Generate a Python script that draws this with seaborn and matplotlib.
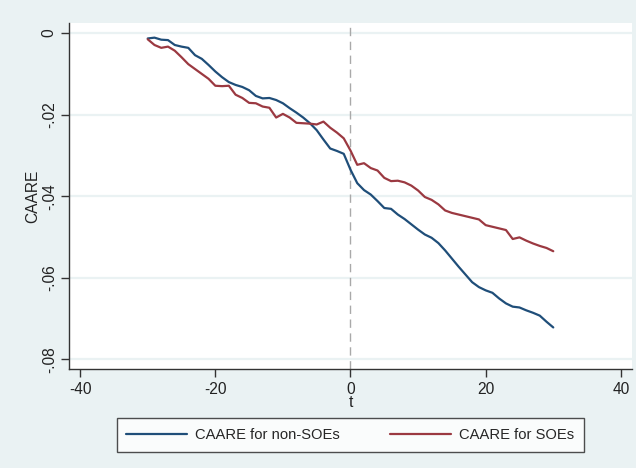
import numpy as np
import pandas as pd
import matplotlib
matplotlib.use("Agg")
import matplotlib.pyplot as plt
import seaborn as sns

# Event window
t = list(range(-30, 31))

# Cumulative average abnormal returns
caare_non_soe = [
    -0.0013, -0.0011, -0.0016, -0.0017, -0.0029, -0.0033, -0.0036, -0.0054, -0.0063, -0.0078,
    -0.0094, -0.0108, -0.0120, -0.0127, -0.0132, -0.0140, -0.0154, -0.0160, -0.0159, -0.0164,
    -0.0172, -0.0184, -0.0195, -0.0207, -0.0221, -0.0238, -0.0261, -0.0283, -0.0289, -0.0296,
    -0.0335, -0.0368, -0.0385, -0.0396, -0.0412, -0.0429, -0.0431, -0.0445, -0.0456, -0.0469,
    -0.0482, -0.0494, -0.0502, -0.0515, -0.0533, -0.0553, -0.0573, -0.0592, -0.0611, -0.0623,
    -0.0631, -0.0637, -0.0651, -0.0663, -0.0671, -0.0673, -0.0680, -0.0686, -0.0693, -0.0708,
    -0.0722,
]
caare_soe = [
    -0.0015, -0.0029, -0.0036, -0.0033, -0.0043, -0.0059, -0.0076, -0.0088, -0.0100, -0.0112,
    -0.0129, -0.0130, -0.0129, -0.0151, -0.0159, -0.0171, -0.0172, -0.0180, -0.0183, -0.0207,
    -0.0198, -0.0207, -0.0220, -0.0221, -0.0222, -0.0224, -0.0217, -0.0232, -0.0244, -0.0258,
    -0.0288, -0.0323, -0.0319, -0.0331, -0.0337, -0.0355, -0.0363, -0.0362, -0.0366, -0.0374,
    -0.0386, -0.0402, -0.0409, -0.0420, -0.0435, -0.0441, -0.0445, -0.0449, -0.0453, -0.0457,
    -0.0471, -0.0475, -0.0479, -0.0483, -0.0505, -0.0501, -0.0509, -0.0516, -0.0522, -0.0527,
    -0.0535,
]

series_names = ["CAARE for non-SOEs", "CAARE for SOEs"]
x_ticks = [-40, -20, 0, 20, 40]
y_ticks = [0, -0.02, -0.04, -0.06, -0.08]
y_tick_labels = ["0", "-.02", "-.04", "-.06", "-.08"]

df = pd.DataFrame({
    "t": t * 2,
    "CAARE": caare_non_soe + caare_soe,
    "series": [series_names[0]] * len(t) + [series_names[1]] * len(t),
})

sns.set_theme(style="white")
plt.rcParams["font.family"] = ["Liberation Sans", "DejaVu Sans"]

bg = "#EAF2F3"
palette = {series_names[0]: "#1F4E79", series_names[1]: "#9B3941"}
fs = 11.2
fs_leg = 10.6

fig = plt.figure(figsize=(6.36, 4.68), dpi=100, facecolor=bg)
ax = fig.add_axes([0.109, 0.2115, 0.8842, 0.7394])
ax.set_facecolor("white")

# horizontal grid at the y ticks
for yv in y_ticks:
    ax.axhline(yv, color=bg, lw=1.6, zorder=0)

ax.axvline(0, color="#A9A9A9", lw=1.0, ls=(0, (6, 4)), zorder=1)

sns.lineplot(data=df, x="t", y="CAARE", hue="series", palette=palette,
             linewidth=1.6, ax=ax, legend=False, zorder=3)

ax.set_xlim(-41.6, 41.6)
ax.set_ylim(-0.0824, 0.0025)
ax.set_xticks(x_ticks)
ax.set_xticklabels([str(v) for v in x_ticks])
ax.set_yticks(y_ticks)
ax.set_yticklabels(y_tick_labels, rotation=90, va="center")
ax.tick_params(axis="both", direction="out", length=6, width=1, color="#333333",
               labelsize=fs, labelcolor="#222222", pad=3, left=True, bottom=True)
ax.set_xlabel("t", fontsize=fs, color="#222222", labelpad=-1)
ax.set_ylabel("CAARE", fontsize=fs, color="#222222", labelpad=1)

for side in ["top", "right"]:
    ax.spines[side].set_visible(False)
for side in ["left", "bottom"]:
    ax.spines[side].set_color("#333333")
    ax.spines[side].set_linewidth(1.0)

handles = [plt.Line2D([0], [0], color=palette[n], lw=1.6) for n in series_names]
leg = fig.legend(handles, series_names, loc="center", bbox_to_anchor=(0.551, 0.0705),
                 ncol=2, frameon=True, fancybox=False, edgecolor="#222222",
                 fontsize=fs_leg, handlelength=4.1, columnspacing=3.4,
                 borderpad=0.65, handletextpad=0.6)
leg.get_frame().set_linewidth(1.0)
leg.get_frame().set_facecolor("white")

fig.savefig("out.png", dpi=100, facecolor=bg)
